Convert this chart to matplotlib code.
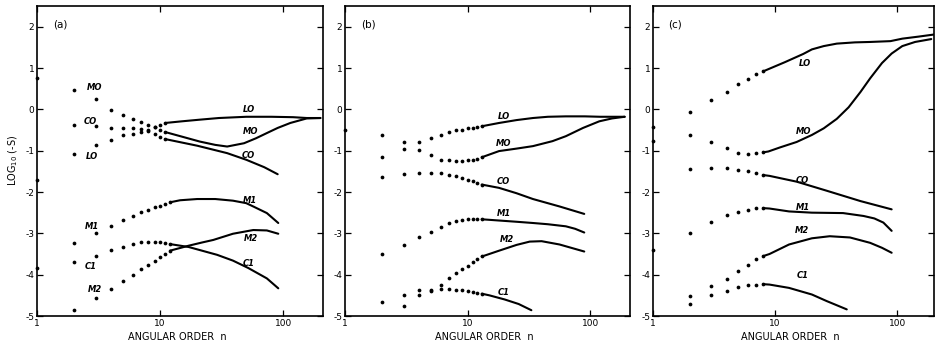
import numpy as np
import matplotlib
matplotlib.use("Agg")
import matplotlib.pyplot as plt

# ---------------- panel (a) ----------------
n_a_top = [2, 3, 4, 5, 6, 7, 8, 9, 10, 11]
n_a_low = [2, 3, 4, 5, 6, 7, 8, 9, 10, 11, 12]
LO_a = [-1.08, -0.86, -0.74, -0.63, -0.59, -0.55, -0.49, -0.43, -0.38, -0.33]
MO_a = [0.46, 0.25, -0.01, -0.13, -0.23, -0.31, -0.37, -0.43, -0.49, -0.55]
CO_a = [-0.39, -0.41, -0.44, -0.45, -0.46, -0.48, -0.53, -0.59, -0.66, -0.72]
M1_a = [-3.24, -3.00, -2.82, -2.67, -2.57, -2.49, -2.43, -2.37, -2.33, -2.29, -2.25]
C1_a = [-3.70, -3.56, -3.40, -3.32, -3.26, -3.21, -3.21, -3.21, -3.22, -3.24, -3.26]
M2_a = [-4.85, -4.57, -4.35, -4.15, -4.01, -3.87, -3.77, -3.67, -3.58, -3.50, -3.42]

LO_a_ln = [11, 15, 21, 30, 50, 80, 120, 155, 200]
LO_a_lv = [-0.33, -0.29, -0.25, -0.21, -0.18, -0.18, -0.19, -0.21, -0.21]
MO_a_ln = [11, 15, 21, 28, 35, 48, 60, 74, 90, 114, 155, 200]
MO_a_lv = [-0.55, -0.66, -0.78, -0.86, -0.90, -0.82, -0.70, -0.57, -0.45, -0.33, -0.22, -0.21]
CO_a_ln = [11, 20, 35, 50, 70, 90]
CO_a_lv = [-0.72, -0.88, -1.06, -1.22, -1.40, -1.57]
M1_a_ln = [12, 14.5, 20, 28, 39, 50, 57, 73.5, 91]
M1_a_lv = [-2.25, -2.20, -2.17, -2.17, -2.21, -2.27, -2.35, -2.51, -2.75]
C1_a_ln = [12, 17, 29, 39, 52, 73.5, 91]
C1_a_lv = [-3.26, -3.33, -3.52, -3.66, -3.84, -4.09, -4.33]
M2_a_ln = [12, 17, 22, 27, 39, 57, 73.5, 91]
M2_a_lv = [-3.42, -3.30, -3.22, -3.16, -3.01, -2.92, -2.93, -3.01]
n1_a = [0.76, -1.71, -3.84]

# ---------------- panel (b) ----------------
n_b = [2, 3, 4, 5, 6, 7, 8, 9, 10, 11, 12, 13]
LO_b = [-0.61, -0.80, -0.79, -0.69, -0.61, -0.55, -0.51, -0.49, -0.46, -0.45, -0.43, -0.41]
MO_b = [-1.15, -0.96, -0.99, -1.11, -1.22, -1.23, -1.24, -1.24, -1.23, -1.22, -1.19, -1.16]
CO_b = [-1.64, -1.57, -1.53, -1.53, -1.55, -1.58, -1.62, -1.66, -1.70, -1.74, -1.78, -1.82]
M1_b = [-3.50, -3.28, -3.08, -2.96, -2.85, -2.75, -2.71, -2.67, -2.66, -2.65, -2.65, -2.66]
M2_b = [np.nan, -4.76, -4.50, -4.40, -4.25, -4.07, -3.97, -3.87, -3.78, -3.69, -3.62, -3.56]
C1_b = [-4.66, -4.48, -4.37, -4.38, -4.35, -4.35, -4.36, -4.38, -4.40, -4.42, -4.44, -4.46]

LO_b_ln = [13, 18, 25, 34, 45, 63, 90, 120, 190]
LO_b_lv = [-0.41, -0.33, -0.26, -0.21, -0.18, -0.17, -0.17, -0.18, -0.18]
MO_b_ln = [13, 18, 25, 34, 49, 63, 87, 118, 150, 190]
MO_b_lv = [-1.16, -1.01, -0.95, -0.89, -0.77, -0.65, -0.45, -0.29, -0.22, -0.18]
CO_b_ln = [13, 18, 25, 34, 56, 89]
CO_b_lv = [-1.82, -1.90, -2.03, -2.17, -2.35, -2.53]
M1_b_ln = [13, 18, 25, 34, 45, 63, 75, 89]
M1_b_lv = [-2.66, -2.69, -2.72, -2.75, -2.78, -2.83, -2.89, -2.98]
M2_b_ln = [13, 14, 18, 25, 32, 40, 56, 89]
M2_b_lv = [-3.56, -3.53, -3.42, -3.28, -3.20, -3.19, -3.27, -3.44]
C1_b_ln = [13, 15, 20, 26, 33]
C1_b_lv = [-4.46, -4.50, -4.60, -4.71, -4.86]
n1_b = [-0.49]

# ---------------- panel (c) ----------------
n_c = [2, 3, 4, 5, 6, 7, 8]
LO_c = [-0.07, 0.22, 0.43, 0.62, 0.74, 0.85, 0.92]
MO_c = [-0.62, -0.78, -0.94, -1.05, -1.07, -1.06, -1.04]
CO_c = [-1.44, -1.43, -1.43, -1.46, -1.50, -1.55, -1.59]
M1_c = [-2.98, -2.73, -2.56, -2.48, -2.43, -2.39, -2.39]
M2_c = [-4.71, -4.28, -4.10, -3.92, -3.77, -3.62, -3.55]
C1_c = [-4.52, -4.50, -4.40, -4.29, -4.24, -4.24, -4.23]

LO_c_ln = [8, 12, 17, 20, 25, 32, 45, 60, 88, 110, 150, 200]
LO_c_lv = [0.92, 1.14, 1.34, 1.45, 1.53, 1.59, 1.62, 1.63, 1.65, 1.71, 1.76, 1.81]
MO_c_ln = [8, 8.8, 11, 15, 20, 25, 32, 40, 50, 60, 75, 90, 110, 140, 190]
MO_c_lv = [-1.04, -1.02, -0.92, -0.79, -0.62, -0.46, -0.23, 0.05, 0.42, 0.75, 1.12, 1.35, 1.53, 1.63, 1.70]
CO_c_ln = [8, 9, 15, 26.5, 50, 90]
CO_c_lv = [-1.59, -1.61, -1.75, -1.97, -2.22, -2.42]
M1_c_ln = [8, 9, 13, 20, 36, 53, 65, 77, 90]
M1_c_lv = [-2.39, -2.40, -2.47, -2.50, -2.51, -2.58, -2.64, -2.74, -2.94]
M2_c_ln = [8, 9, 13, 20, 28, 41, 60, 75, 90]
M2_c_lv = [-3.55, -3.50, -3.27, -3.12, -3.07, -3.10, -3.23, -3.35, -3.47]
C1_c_ln = [8, 9, 13, 20, 26.5, 32, 38.6]
C1_c_lv = [-4.23, -4.24, -4.32, -4.48, -4.64, -4.74, -4.84]
n1_c = [-0.43, -0.76, -3.41]

# curve labels: (text, n, value)
labels_a = [("MO", 2.96, 0.54), ("CO", 2.73, -0.29), ("LO", 2.78, -1.14),
            ("LO", 53, -0.01), ("MO", 54, -0.54), ("CO", 52, -1.12),
            ("M1", 2.78, -2.84), ("C1", 2.73, -3.80), ("M2", 2.96, -4.35),
            ("M1", 54, -2.21), ("M2", 55, -3.12), ("C1", 52, -3.74)]
labels_b = [("LO", 19.6, -0.18), ("MO", 19.6, -0.83), ("CO", 19.6, -1.74),
            ("M1", 19.6, -2.51), ("M2", 20.9, -3.14), ("C1", 19.6, -4.44)]
labels_c = [("LO", 17.6, 1.10), ("MO", 17.0, -0.54), ("CO", 16.8, -1.71),
            ("M1", 16.8, -2.38), ("M2", 16.5, -2.94), ("C1", 16.8, -4.02)]

y_ticks = [2, 1, 0, -1, -2, -3, -4, -5]
y_tick_labels = ["2", "1", "0", "-1", "-2", "-3", "-4", "-5"]
x_ticks = [1, 10, 100]
x_tick_labels = ["1", "10", "100"]

panels = [
    dict(tag="(a)", xmax=210,
         dots=[(n_a_top, LO_a), (n_a_top, MO_a), (n_a_top, CO_a),
               (n_a_low, M1_a), (n_a_low, C1_a), (n_a_low, M2_a)],
         lines=[(LO_a_ln, LO_a_lv), (MO_a_ln, MO_a_lv), (CO_a_ln, CO_a_lv),
                (M1_a_ln, M1_a_lv), (C1_a_ln, C1_a_lv), (M2_a_ln, M2_a_lv)],
         n1=n1_a, labels=labels_a),
    dict(tag="(b)", xmax=210,
         dots=[(n_b, LO_b), (n_b, MO_b), (n_b, CO_b),
               (n_b, M1_b), (n_b, M2_b), (n_b, C1_b)],
         lines=[(LO_b_ln, LO_b_lv), (MO_b_ln, MO_b_lv), (CO_b_ln, CO_b_lv),
                (M1_b_ln, M1_b_lv), (M2_b_ln, M2_b_lv), (C1_b_ln, C1_b_lv)],
         n1=n1_b, labels=labels_b),
    dict(tag="(c)", xmax=200,
         dots=[(n_c, LO_c), (n_c, MO_c), (n_c, CO_c),
               (n_c, M1_c), (n_c, M2_c), (n_c, C1_c)],
         lines=[(LO_c_ln, LO_c_lv), (MO_c_ln, MO_c_lv), (CO_c_ln, CO_c_lv),
                (M1_c_ln, M1_c_lv), (M2_c_ln, M2_c_lv), (C1_c_ln, C1_c_lv)],
         n1=n1_c, labels=labels_c),
]

W, H = 935, 351
fig = plt.figure(figsize=(W / 100, H / 100), dpi=100)
plt.rcParams["font.family"] = ["DejaVu Sans"]

lefts = [37, 345, 653]
widths = [286, 285, 281]
bottom_px, top_px = 316, 6

for p, left, width in zip(panels, lefts, widths):
    ax = fig.add_axes([left / W, 1 - bottom_px / H, width / W, (bottom_px - top_px) / H])
    ax.set_xscale("log")
    ax.set_xlim(1, p["xmax"])
    ax.set_ylim(-5, 2.5)

    for nn, vv in p["dots"]:
        ax.plot(nn, vv, "o", color="black", markersize=2.7, markeredgewidth=0)
    for nn, vv in p["lines"]:
        ax.plot(nn, vv, "-", color="black", lw=1.5, solid_capstyle="round",
                solid_joinstyle="round")
    ax.plot([1] * len(p["n1"]), p["n1"], "o", color="black", markersize=2.7,
            markeredgewidth=0, clip_on=False)

    for txt, nx, vy in p["labels"]:
        ax.text(nx, vy, txt, fontsize=6, style="italic", fontweight="bold",
                ha="center", va="center", color="black")

    ax.text(0.055, 0.94, p["tag"], transform=ax.transAxes, fontsize=7.5,
            ha="left", va="center")

    ax.set_xticks(x_ticks)
    ax.set_xticklabels(x_tick_labels)
    ax.xaxis.set_minor_locator(matplotlib.ticker.NullLocator())
    ax.set_yticks(y_ticks)
    ax.set_yticklabels(y_tick_labels)
    ax.tick_params(direction="in", length=4, width=0.9, top=True, right=True,
                   labelsize=6.5, pad=2, colors="black")
    for s in ax.spines.values():
        s.set_linewidth(1.2)
        s.set_color("black")

    cx = (left + width / 2 - 3) / W
    fig.text(cx, 1 - 337 / H, "ANGULAR ORDER  n", fontsize=7, ha="center",
             va="center")

fig.text(13 / W, 1 - 160 / H, "LOG$_{10}$ (-S)", rotation=90, fontsize=7,
         ha="center", va="center")

fig.savefig("out.png", dpi=100)
